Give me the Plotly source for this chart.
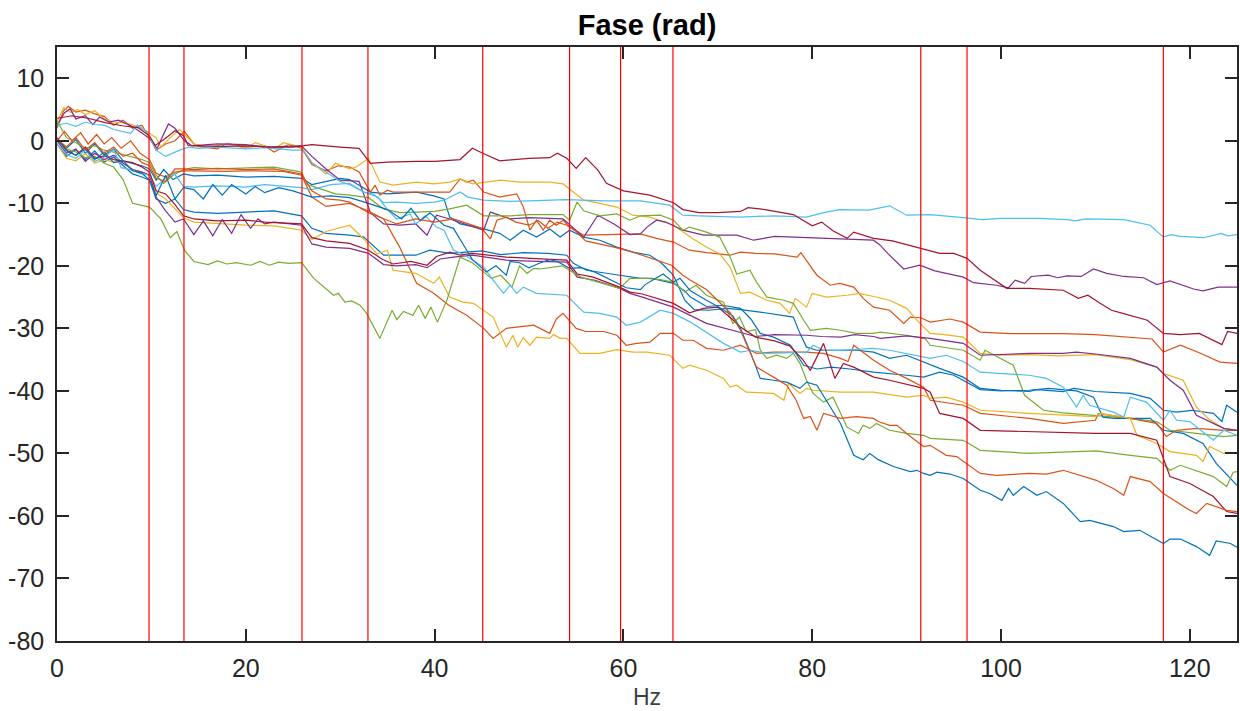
import plotly.graph_objects as go

# ---- data: vertices (Hz, phase rad) ----
R1 = [(0,3.6),(1.6,4.0),(3.3,3.6),(5.1,2.9),(6.9,2.4),(8.6,2.1),(9.8,0.8),(10.4,-0.75),(11.4,0.3),(12.5,1.6),(13.4,0.8),(13.9,-0.75),(15,-0.8),(17.5,-0.9),(20,-0.8),(22.5,-1.0),(25,-1.0),(27,-0.6),(30,-1.0),(32,-1.2),(33.2,-3.6),(35,-3.4),(38,-3.3),(40,-3.3),(42.7,-3.0),(44,-1.2),(45.1,-2.0),(46.9,-3.2),(50,-2.8),(52.2,-2.7),(53,-2.0),(54,-2.8),(55,-4.4),(56,-2.7),(57.3,-4.7),(58.2,-6.8),(60,-8.0),(62.8,-8.7),(65.3,-9.9),(66.3,-11.0),(68,-11.5),(70,-11.5),(72.4,-11.3),(73.2,-10.7),(75,-11.0),(78,-11.8),(80,-13.6),(81,-13.0),(82.2,-14.4),(83.7,-15.6),(84.4,-14.6),(86.5,-15.6),(88.5,-16.0),(91.4,-17.2),(93.5,-18.0),(95,-18.0),(96.4,-18.8),(97.8,-20.7),(100.6,-23.6),(103,-23.6),(106.6,-23.9),(108.2,-25.2),(109.2,-24.7),(110.5,-26.0),(111.7,-27.1),(112.9,-27.6),(115.5,-28.7),(117.2,-30.8),(119,-31.0),(121,-30.8),(123.4,-32.6),(124,-30.5),(125,-30.8)]

C1 = [(0,2.5),(1,2.8),(2,2.3),(3,3.0),(4,2.6),(5,2.5),(6,1.8),(7.8,1.2),(8.5,2.5),(9.5,1.5),(10.5,-1.5),(11.5,-2.5),(13,-1.5),(14,-1.0),(15,-1.2),(17,-1.0),(20,-1.3),(22,-1.1),(25,-1.5),(26,-1.5),(27,-3.5),(28.5,-5.0),(30,-6.5),(31,-7.0),(32.5,-8.2),(33.5,-8.5),(34.6,-9.9),(36,-9.8),(38,-10.0),(40,-9.8),(41,-9.5),(42.7,-8.2),(43.5,-9.0),(45.2,-9.5),(48,-9.7),(50,-9.6),(54,-9.4),(58,-9.6),(61.8,-9.6),(64.9,-10.3),(66.3,-11.9),(68,-12.0),(72.3,-12.2),(76,-12.0),(79.4,-12.2),(81.2,-11.5),(82.9,-11.0),(86,-11.1),(88.2,-10.4),(90,-11.9),(92.5,-11.8),(96,-12.3),(98,-12.6),(100,-12.4),(104,-12.4),(107,-12.6),(107.8,-12.8),(109,-12.5),(113,-12.6),(115.8,-13.5),(117.2,-15.4),(118,-15.0),(119,-15.3),(121.5,-15.5),(123.3,-14.8),(124,-15.2),(125,-15.0)]

P1 = [(0,2.5),(0.8,4.5),(1.4,5.1),(2,3.5),(3,4.0),(3.8,2.6),(4.5,3.8),(5.5,3.0),(6.5,3.3),(8,2.3),(9.7,0.5),(10.6,-1.2),(11.8,2.7),(12.5,2.0),(13.5,0),(14.3,-0.8),(17,-0.5),(20,-0.6),(22,-1.0),(25.9,-0.8),(27,-2.5),(28.5,-4.5),(30,-6.3),(32,-6.5),(33.2,-11.5),(34.6,-13.3),(36.3,-13.5),(38,-13.3),(39.2,-15.1),(40.2,-11.9),(41.6,-12.5),(43.5,-13.5),(45.2,-14.3),(45.9,-11.4),(48,-12.5),(50,-12.3),(53.6,-12.5),(55.8,-15.4),(57.3,-11.9),(59,-13.3),(60.7,-15.0),(61.8,-14.9),(62.5,-13.8),(63.5,-12.7),(64.5,-13.0),(66.3,-14.3),(68.5,-15.1),(72,-15.1),(73.8,-15.9),(76,-15.3),(80,-15.5),(83.7,-15.7),(86.5,-15.9),(87.2,-16.7),(88,-18.0),(89.7,-20.5),(91.4,-19.9),(93,-20.8),(96,-21.8),(97.1,-22.7),(99.5,-23.1),(100.8,-23.5),(101.5,-22.3),(102.5,-22.8),(103.2,-21.7),(105,-21.5),(106,-21.9),(107,-21.6),(108.5,-21.7),(109.8,-20.5),(111.2,-21.2),(113,-21.7),(115.1,-21.9),(116.5,-23.0),(117.9,-22.4),(120.4,-23.7),(121.4,-24.0),(123,-23.4),(125,-23.4)]

Y1 = [(0,3.0),(0.7,5.3),(1.5,4.5),(2.2,5.0),(3,4.2),(4,4.8),(5,3.5),(6,3.0),(7.5,2.8),(9,2.0),(10.5,0.5),(11,-1.0),(12,0.5),(13,1.8),(14.5,-0.5),(16,-1.0),(18,-0.5),(20,-1.2),(21,-0.3),(23,-1.3),(24,-0.3),(25.9,-1.0),(27,-3.5),(28.5,-5.3),(29.5,-3.6),(31,-4.5),(31.7,-4.2),(33,-2.8),(34.2,-6.6),(35.6,-7.1),(38.1,-6.6),(39.9,-6.9),(41.6,-6.6),(42.7,-6.1),(44,-6.9),(47,-6.3),(49,-6.6),(52.2,-6.6),(53.6,-6.9),(54.3,-7.7),(55.8,-9.5),(57.5,-10.0),(59.3,-10.6),(61,-11.9),(62.8,-12.2),(65.3,-13.5),(66.3,-14.6),(67.4,-15.7),(68.8,-17.0),(70.2,-18.1),(71.3,-20.2),(72.4,-24.4),(73.4,-24.2),(75.2,-25.5),(76.6,-26.0),(77.6,-27.6),(78.2,-25.2),(79.4,-26.6),(80,-24.4),(81.5,-25.0),(83.7,-24.7),(85,-24.4),(86.5,-24.9),(88.2,-25.5),(90,-26.8),(91.4,-29.2),(92.5,-30.8),(94,-31.0),(96,-31.4),(97.8,-34.0),(100,-34.3),(103,-34.2),(106,-34.4),(108,-34.3),(110,-34.2),(113.7,-35.0),(116.5,-36.2),(117.2,-37.2),(119.3,-38.3),(120.7,-42.6),(122,-44.5),(123.6,-46.0),(125,-46.3)]

O1 = [(0,2.0),(0.7,4.8),(1.2,5.5),(2,4.6),(3,4.9),(4,4.3),(5,3.9),(6,2.5),(7,3.3),(8,2.0),(9,2.5),(10,0),(10.5,-1.5),(11.5,-0.5),(12.5,0),(13.5,1.5),(14.5,-0.5),(15,-0.9),(17,-1.3),(18,-0.4),(20,-1.0),(22,-0.8),(23,-1.8),(24.5,-0.6),(25.9,-1.2),(27,-3.8),(28.5,-4.8),(29.8,-4.0),(31,-4.2),(32,-5.0),(33.2,-8.2),(33.7,-7.1),(34.2,-8.7),(35,-7.9),(35.6,-8.2),(38,-8.2),(41.6,-8.2),(42.7,-6.1),(43.4,-6.6),(44.1,-6.3),(45.2,-8.2),(46.9,-9.0),(48.7,-8.5),(49.4,-10.6),(50.1,-14.3),(50.8,-12.7),(51.5,-14.3),(52.2,-12.7),(52.9,-13.5),(53.6,-12.7),(54.3,-13.8),(55.8,-15.1),(58,-15.0),(61.8,-14.9),(63.5,-15.6),(65.3,-16.2),(67,-17.5),(68.8,-17.9),(71.3,-18.3),(72.4,-17.8),(74,-18.0),(76,-18.1),(78.4,-18.6),(78.8,-17.9),(80.5,-21.5),(81.9,-23.1),(82.9,-22.8),(84.4,-23.4),(85.4,-25.2),(86.5,-26.6),(88.2,-27.1),(89.7,-29.2),(90.4,-28.2),(91.5,-28.3),(92.5,-29.0),(94.6,-28.5),(96,-29.0),(97.8,-30.6),(101,-30.85),(106.6,-30.85),(110,-31.0),(113.7,-31.4),(116,-31.7),(117.2,-33.8),(119,-32.7),(121,-33.9),(123.2,-35.4),(125,-35.6)]

G1 = [(0,3.2),(1,0.5),(2,-0.3),(3,-1.2),(4,-0.8),(5,-1.5),(6,-1.8),(7,-2.2),(8,-2.5),(9,-3.0),(9.8,-3.5),(10.5,-5.5),(11.3,-6.8),(12.3,-5.5),(13.4,-4.6),(14.5,-4.3),(17,-4.5),(20,-4.3),(23,-4.2),(25.9,-5.0),(26.5,-7.0),(27.5,-7.5),(29.5,-8.5),(31,-8.7),(33,-9.1),(34.6,-10.9),(36.3,-11.5),(38,-11.4),(40,-11.3),(41.6,-10.9),(43.4,-10.3),(45.2,-12.0),(48,-12.0),(50,-11.8),(53.6,-11.8),(54.3,-12.7),(55.1,-9.8),(55.8,-11.2),(57.5,-12.0),(59.3,-11.7),(60.7,-12.7),(61.8,-12.0),(63.9,-11.9),(65.3,-12.7),(66.3,-14.3),(67,-13.8),(68.8,-14.6),(70.2,-15.4),(71.3,-18.6),(72,-21.3),(73.4,-20.7),(74.1,-22.6),(75.2,-25.0),(77,-25.5),(78,-26.0),(79.1,-28.7),(79.8,-30.3),(81.5,-30.0),(83,-30.3),(84.7,-30.8),(86.5,-30.8),(87.2,-30.6),(90,-31.1),(92,-31.7),(92.5,-32.7),(96,-33.5),(97.8,-35.1),(98.3,-33.5),(101.3,-35.9),(102.5,-40.7),(104.5,-43.1),(106.6,-43.5),(110,-43.9),(113.7,-44.4),(116.5,-44.9),(117.9,-46.3),(120.7,-46.8),(123.6,-47.3),(125,-47.1)]

O2 = [(0,0),(0.8,1.5),(1.6,0),(2.5,1.3),(3.3,-0.5),(4.2,1.0),(5,-0.5),(5.8,0.5),(6.8,-1.2),(7.8,0),(8.8,-2.0),(9.8,-3.0),(10.5,-5.2),(11.5,-5.8),(12.5,-5.0),(13.4,-4.8),(14.5,-4.8),(18,-4.9),(20,-4.8),(24,-4.9),(25.9,-5.5),(27,-9.0),(28.5,-10.5),(30,-10.2),(31,-10.0),(32.8,-11.1),(34.6,-12.5),(36.3,-17.0),(38.1,-22.8),(39.9,-24.4),(41.5,-26.3),(43.4,-27.9),(45.2,-30.0),(46.2,-31.6),(47.6,-30.0),(48.7,-29.8),(50.5,-29.5),(52.2,-30.8),(52.9,-28.5),(53.6,-27.6),(55,-30.0),(56,-30.5),(57.9,-30.5),(59.3,-31.1),(60.3,-32.7),(61.4,-32.4),(62.8,-32.2),(63.9,-30.8),(65.3,-30.8),(66.3,-31.9),(67.4,-31.9),(68.8,-33.2),(70.6,-33.5),(72.4,-32.7),(74.1,-34.0),(75.9,-33.8),(79.4,-33.8),(81.2,-34.0),(83,-34.8),(83.8,-35.3),(84.4,-32.7),(86.5,-35.1),(88.2,-36.7),(90,-38.0),(91.8,-39.4),(92.5,-41.5),(96,-42.3),(97.8,-43.6),(103,-44.4),(106.6,-45.2),(110,-44.7),(110.3,-43.6),(113.7,-44.4),(116.5,-45.2),(117.5,-47.3),(118.6,-46.3),(120.7,-46.0),(123.6,-46.3),(125,-46.3)]

O3 = [(0,0.3),(1,-1.0),(2,0.5),(3,-1.5),(4,-0.3),(5,-2.0),(6,-1.0),(7,-2.5),(8,-2.0),(9,-3.5),(9.8,-4.0),(10.5,-6.0),(11.5,-6.5),(12.5,-4.5),(13.4,-4.5),(14.5,-4.6),(17,-4.4),(20,-4.6),(23,-4.5),(25.9,-5.3),(27,-8.0),(28.5,-9.3),(30,-9.5),(31,-9.8),(33,-11.5),(34.6,-12.5),(36,-13.3),(38,-12.5),(40,-13.0),(42,-12.5),(43.5,-13.3),(45,-14.0),(45.9,-15.7),(46.6,-12.7),(47.6,-12.2),(48.6,-13.0),(50,-13.5),(51,-12.8),(52,-14.0),(53,-13.0),(54,-13.5),(55,-14.5),(56,-16.0),(57.5,-16.5),(59,-17.0),(61,-17.8),(62,-18.3),(65.1,-19.9),(66.3,-21.5),(67.1,-22.3),(68.8,-23.8),(70.2,-25.8),(71.3,-27.5),(72.4,-30.3),(73,-32.4),(74.1,-36.2),(75.9,-37.8),(77.3,-39.1),(78.3,-41.5),(79.1,-44.4),(79.8,-44.1),(80.5,-46.3),(81.2,-43.6),(82.2,-44.1),(83,-44.4),(84.7,-44.1),(86.5,-44.4),(87,-44.9),(88.2,-45.5),(89,-45.5),(90,-46.8),(91.8,-48.9),(92.5,-48.7),(94.2,-50.3),(95.3,-50.5),(97.8,-53.2),(99.5,-53.5),(103,-53.2),(104.8,-53.3),(106.6,-52.7),(110.1,-54.3),(111.9,-55.6),(113,-56.7),(113.7,-53.7),(115.8,-54.5),(117.2,-56.4),(120,-59.1),(120.7,-59.6),(121.8,-58.0),(123.9,-59.1),(125,-59.3)]

B1 = [(0,0),(1,-1.2),(2,0.2),(3,-2.0),(4,-0.5),(5,-2.3),(6,-1.3),(7,-3.2),(8,-3.6),(9,-4.0),(9.8,-4.5),(10.5,-6.3),(11.3,-4.6),(12.3,-6.2),(13.4,-5.3),(14.5,-5.6),(17,-5.5),(20,-5.8),(23,-5.7),(25.9,-6.0),(27,-7.0),(28.5,-6.5),(30,-6.0),(31,-6.2),(33.2,-8.2),(35,-8.5),(38.1,-8.2),(39.9,-8.8),(41,-9.3),(41.6,-12.2),(42.7,-13.3),(45.2,-14.1),(46.9,-14.8),(48,-15.9),(49.4,-14.3),(50.8,-15.4),(52.2,-14.1),(53.3,-15.4),(54.3,-14.3),(55.8,-15.4),(57.5,-15.9),(59.3,-17.0),(61,-17.8),(62.8,-18.3),(64,-19.5),(65.3,-21.5),(66.5,-25.5),(67.5,-27.0),(69,-27.1),(71,-26.8),(72.4,-27.0),(75,-27.5),(78,-28.2),(78.7,-30.8),(79.4,-33.0),(80.5,-33.5),(82.2,-33.5),(84.7,-33.5),(86.5,-33.8),(88.2,-34.8),(90,-34.3),(91.8,-35.4),(93.5,-36.4),(96,-37.8),(97.8,-39.6),(100,-39.9),(103,-40.1),(103.8,-39.8),(106.6,-40.1),(107.7,-39.6),(110,-40.1),(113.7,-40.4),(115.8,-41.2),(117.2,-43.1),(118.6,-43.4),(120.2,-43.1),(122.5,-43.6),(123.4,-44.9),(123.9,-42.3),(125,-43.4)]

B2 = [(0,-0.5),(1,-2.5),(2,-1.4),(3,-3.0),(4,-1.6),(5,-3.4),(6,-2.6),(7,-4.0),(8,-5.3),(9,-5.8),(9.8,-6.3),(10.5,-9.3),(11.5,-10.0),(12.5,-9.3),(13.4,-11.0),(14.5,-11.4),(17,-11.6),(20,-11.4),(23,-11.2),(25.9,-12.0),(27,-14.0),(28.5,-14.8),(31,-15.1),(32.5,-15.4),(33.9,-17.3),(34.6,-18.3),(38,-18.3),(39.5,-17.5),(41.6,-18.0),(45,-17.6),(47,-18.2),(49.4,-17.9),(52,-18.0),(54,-18.3),(54.7,-19.6),(56.1,-20.7),(59.6,-21.5),(61.8,-22.0),(63,-22.0),(65.3,-22.8),(66.5,-24.0),(67.1,-25.0),(68.8,-26.5),(70.5,-26.3),(72.4,-26.8),(73.5,-28.5),(74.5,-30.8),(75.9,-31.4),(77.7,-32.7),(79.1,-35.9),(80.5,-36.5),(82,-36.2),(84,-36.5),(86.5,-37.0),(90,-37.5),(91.8,-37.8),(93.5,-37.0),(95,-37.5),(97.8,-39.8),(100,-40.0),(103,-39.9),(105,-39.6),(108,-40.0),(109.8,-41.0),(110.8,-44.2),(112,-44.4),(115.8,-44.4),(117.2,-46.3),(119.3,-46.8),(121.4,-48.4),(122.8,-51.6),(125,-55.1)]

B3 = [(0,0.3),(1,-1.6),(2,-2.3),(3,-1.3),(4,-3.0),(5,-1.8),(6,-3.5),(7,-3.2),(8,-4.8),(9,-5.2),(9.8,-6.3),(10.5,-8.8),(11.5,-5.5),(12.5,-9.3),(13.4,-7.5),(14.5,-7.8),(15.5,-9.3),(16.5,-7.0),(17.5,-8.7),(18.5,-7.0),(20,-8.5),(21,-7.3),(22,-8.3),(23.5,-7.5),(25,-8.0),(25.9,-8.5),(27,-9.0),(29,-8.8),(31,-9.1),(33,-10.0),(35,-11.0),(36.5,-12.5),(37.5,-10.8),(38.5,-12.8),(39.5,-11.5),(41,-13.5),(42,-14.0),(43,-16.5),(44,-19.0),(45.5,-21.0),(46.5,-20.0),(47.6,-21.5),(48,-19.3),(49,-19.5),(50,-20.3),(51.2,-19.5),(52.2,-19.0),(53,-19.3),(54.3,-20.4),(55.5,-20.3),(57,-21.0),(59,-22.5),(60.3,-23.5),(61.8,-23.8),(62.3,-23.0),(64.2,-21.3),(65.3,-22.6),(66,-22.0),(67.1,-24.0),(68.8,-25.5),(70,-26.5),(71.6,-28.0),(72.4,-30.0),(73.5,-34.0),(74.5,-38.0),(75.9,-38.3),(77.3,-38.6),(78.7,-39.6),(79.4,-38.6),(80.5,-39.1),(81.5,-41.5),(83,-45.2),(84.4,-50.3),(85.4,-51.0),(86.1,-50.0),(87,-51.0),(88.6,-52.1),(90.4,-52.9),(91.1,-52.7),(91.8,-53.2),(92.5,-53.5),(93.2,-53.0),(94.6,-53.3),(96,-54.0),(97.8,-55.9),(98.8,-56.4),(100.1,-57.5),(100.8,-55.6),(101.3,-56.7),(102.4,-55.3),(103.8,-56.7),(104.8,-56.1),(106.6,-58.0),(108.4,-60.9),(109.4,-60.7),(111.9,-61.7),(113,-62.5),(114.7,-62.3),(117.2,-64.4),(117.9,-63.7),(119,-63.7),(120.7,-64.9),(122.1,-66.3),(122.8,-64.0),(124.3,-64.4),(125,-65.0)]

C2 = [(0,-0.5),(1,-2.2),(2,-2.8),(3,-1.5),(4,-3.3),(5,-2.6),(6,-1.4),(6.8,-4.3),(7.8,-4.6),(8.8,-5.2),(9.8,-5.5),(10.5,-7.3),(11.5,-6.0),(12.4,-5.2),(13.4,-7.3),(14.5,-7.4),(17,-7.2),(20,-7.4),(22,-7.0),(24,-7.3),(25.9,-7.5),(27,-7.8),(29,-7.0),(31,-6.8),(32.5,-8.2),(34,-9.0),(35,-11.0),(36,-12.5),(37.4,-11.7),(38,-13.3),(39,-12.0),(40.2,-13.8),(41,-14.3),(42,-17.5),(43,-18.1),(45.2,-20.2),(46.2,-22.3),(47.3,-24.4),(48,-23.1),(48.7,-24.4),(49.4,-23.4),(50.8,-24.4),(54,-24.7),(54.7,-25.8),(55.8,-27.4),(57.5,-27.6),(59.3,-28.2),(60.3,-29.5),(61.2,-29.2),(61.8,-29.0),(63.9,-27.1),(65.3,-27.6),(67.1,-29.0),(68.8,-30.6),(70.6,-32.4),(72.4,-33.8),(73.5,-33.5),(75.2,-34.0),(79.4,-33.8),(80.1,-32.7),(81.2,-33.5),(83,-33.5),(86.5,-33.2),(88.2,-33.5),(90,-34.0),(92.5,-34.8),(94.2,-34.3),(96,-35.3),(97.8,-37.0),(99.5,-37.2),(103,-37.5),(104.8,-38.0),(106.6,-39.4),(108,-42.6),(108.7,-40.7),(109.4,-42.3),(111.9,-43.4),(113,-44.2),(113.7,-41.0),(115.4,-41.8),(117.2,-44.7),(117.9,-43.1),(118.6,-44.7),(120,-44.9),(122.5,-47.9),(123.6,-46.3),(125,-47.1)]

R2 = [(0,0.5),(1,-1.5),(2,-2.3),(3,-1.0),(4,-2.8),(5,-2.4),(6,-3.0),(7,-3.2),(8,-3.5),(9,-4.2),(9.8,-5.0),(10.5,-8.0),(11.5,-8.5),(12.5,-10.2),(13.4,-12.0),(14.5,-12.5),(17,-12.8),(20,-12.7),(22,-13.0),(25.9,-13.3),(27,-15.5),(28.5,-16.0),(31,-16.4),(33,-17.5),(34.5,-19.0),(35.6,-19.7),(37.5,-19.3),(39.2,-19.9),(40.2,-18.5),(41.6,-17.8),(42.7,-18.3),(44,-18.0),(47.6,-18.6),(51.2,-18.9),(54,-19.1),(55.1,-21.3),(56.8,-21.8),(59.6,-23.4),(60.7,-24.2),(62,-24.5),(65.3,-26.0),(67,-27.5),(68.5,-26.8),(70,-26.6),(71.5,-28.5),(72.4,-29.8),(74,-31.4),(76,-32.0),(77.6,-32.8),(79,-35.0),(79.8,-36.7),(81.2,-32.4),(82.4,-38.0),(83.3,-35.6),(84.4,-36.2),(86.5,-37.8),(88.2,-38.3),(91.8,-39.6),(92.5,-40.2),(93.5,-43.6),(96,-44.4),(97.8,-46.3),(103,-46.5),(110,-46.8),(113.7,-46.8),(116.5,-47.9),(117.9,-53.7),(120,-54.8),(122.5,-56.9),(123.9,-59.3),(125,-59.6)]

P2 = [(0,0),(1,-2.0),(2,-1.3),(3,-3.3),(4,-2.0),(5,-3.0),(6,-2.3),(7,-3.6),(8,-4.6),(9,-5.0),(9.8,-5.5),(10.5,-9.0),(11.5,-11.2),(12.5,-13.0),(13.4,-12.5),(14.5,-15.0),(15.5,-12.8),(16.5,-15.2),(17.5,-12.6),(18.5,-14.8),(19.5,-11.8),(20.5,-14.0),(21.3,-12.5),(22,-13.3),(23,-13.0),(25.9,-13.5),(27,-16.5),(28.5,-17.0),(31,-17.2),(33,-18.0),(34.6,-19.8),(36,-20.0),(38,-19.8),(39.2,-20.3),(40.6,-18.9),(42,-18.6),(44,-18.3),(47.6,-19.1),(51,-19.3),(54,-19.4),(55.1,-21.8),(57,-22.3),(59.6,-23.6),(60.7,-24.4),(62,-25.0),(65.3,-26.6),(68.8,-29.2),(72.4,-30.6),(74,-31.3),(76,-31.0),(79.4,-31.1),(81,-31.3),(83,-31.4),(84.5,-31.0),(86.5,-31.3),(87.2,-31.6),(90,-31.2),(92.5,-31.6),(96,-32.4),(97.8,-34.3),(100,-34.2),(103,-34.0),(106.6,-34.0),(108,-33.8),(110,-34.1),(113.7,-34.8),(116.5,-36.2),(117.9,-38.3),(119.3,-39.9),(120.7,-43.9),(123.6,-46.0),(125,-46.3)]

Y2 = [(0,-0.5),(1,-2.8),(2,-3.2),(3,-2.0),(4,-3.6),(5,-3.0),(6,-3.4),(7,-3.2),(8,-4.6),(9,-5.0),(9.8,-5.6),(10.5,-8.3),(11.5,-9.3),(12.5,-10.8),(13.4,-12.3),(14.5,-13.0),(17,-13.2),(20,-13.5),(23,-13.6),(25.9,-14.3),(27,-15.8),(28.5,-14.5),(31,-13.5),(32.5,-15.7),(33.9,-18.1),(35,-17.5),(35.6,-20.7),(38,-21.2),(39.9,-22.8),(40.5,-21.8),(41.6,-25.0),(43,-25.8),(44.1,-26.0),(45.2,-27.2),(46.2,-28.2),(47.6,-33.0),(48.3,-31.1),(48.8,-33.0),(49.4,-31.5),(50.1,-32.7),(50.8,-31.4),(52.2,-31.6),(52.6,-31.0),(53.3,-31.6),(54,-31.6),(55.4,-34.0),(57.5,-34.0),(59.3,-33.4),(61,-33.8),(62.5,-33.8),(64.9,-34.3),(66.3,-36.4),(67,-35.9),(68.8,-36.7),(70.6,-38.0),(71.3,-39.4),(72,-39.1),(73,-40.2),(75.9,-40.4),(77,-41.5),(77.5,-38.8),(78.7,-40.4),(79.4,-39.6),(80.1,-39.9),(83,-40.2),(86.5,-40.2),(90,-41.0),(91.8,-40.7),(92.5,-41.2),(94.2,-41.0),(96,-41.8),(97.8,-43.1),(103,-43.6),(110,-44.1),(110.5,-43.6),(113.7,-44.4),(114.4,-47.1),(116.5,-48.4),(117.9,-49.7),(120.7,-50.3),(121.4,-51.3),(122.1,-48.9),(123.6,-50.0),(125,-50.0)]

G2 = [(0,0.2),(1,-1.3),(2,-1.8),(3,-2.7),(4,-2.5),(5,-3.6),(6,-4.2),(7,-6.2),(8,-10.0),(9,-10.3),(9.8,-10.6),(11,-12.5),(12,-15.5),(12.7,-14.5),(13.5,-17.5),(14.5,-19.3),(16,-19.8),(17,-19.2),(18,-19.7),(19,-19.5),(20.5,-19.9),(21.5,-19.3),(22.5,-19.9),(23.5,-19.4),(24.5,-19.6),(25.9,-19.5),(27.2,-22.0),(29.3,-24.7),(29.8,-24.4),(30.5,-25.8),(31.2,-25.6),(32.1,-26.3),(32.8,-27.6),(34.2,-31.6),(35.5,-27.1),(36,-28.6),(36.7,-27.3),(37.7,-27.9),(38.3,-26.3),(39,-28.4),(39.6,-26.6),(40.3,-29.0),(41.3,-25.5),(42.7,-18.6),(44,-19.5),(45.2,-21.0),(46,-22.0),(47,-21.5),(48.2,-23.4),(49,-20.0),(49.8,-21.2),(50.5,-20.4),(51.2,-20.5),(53.5,-20.0),(54.7,-21.0),(55.5,-21.8),(59.6,-23.6),(60.7,-22.0),(62.5,-22.0),(63.9,-22.2),(65.3,-22.6),(66.5,-24.2),(67.7,-23.1),(68.8,-24.7),(70.6,-25.8),(71.6,-29.2),(72.3,-28.2),(73,-30.5),(74,-30.2),(74.5,-33.5),(75.2,-34.8),(76.2,-34.3),(77.3,-34.8),(78,-34.0),(78.7,-35.6),(79.4,-38.3),(80.1,-40.4),(81.2,-41.8),(82.2,-41.0),(83,-43.6),(83.7,-45.8),(84.9,-46.8),(85.4,-45.5),(86.1,-46.0),(86.8,-45.2),(88.2,-46.3),(90,-46.8),(91.8,-47.1),(92.5,-47.6),(96,-47.9),(97.8,-49.5),(103,-50.0),(108.4,-49.7),(110.1,-49.6),(113.7,-50.3),(116.5,-50.8),(117.9,-52.7),(119,-51.9),(122.5,-53.7),(123.9,-55.3),(124.6,-53.0),(125,-52.9)]

# vertical marker frequencies (Hz)
red_lines = [9.75, 13.45, 25.95, 32.94, 45.1, 54.3, 59.7, 65.25, 91.5, 96.4, 117.2]

x_ticks = [0, 20, 40, 60, 80, 100, 120]
y_ticks = [-80, -70, -60, -50, -40, -30, -20, -10, 0, 10]
y_tick_labels = ["-80", "-70", "-60", "-50", "-40", "-30", "-20", "-10", "0", "10"]

BLUE, ORANGE, YELLOW, PURPLE, GREEN, CYAN, DARKRED = (
    "#0072BD", "#D95319", "#EDB120", "#7E2F8E", "#77AC30", "#4DBEEE", "#A2142F")

series = [
    (B1, BLUE), (O1, ORANGE), (Y1, YELLOW), (P1, PURPLE), (G1, GREEN), (C1, CYAN), (R1, DARKRED),
    (B2, BLUE), (O2, ORANGE), (Y2, YELLOW), (P2, PURPLE), (G2, GREEN), (C2, CYAN), (R2, DARKRED),
    (B3, BLUE), (O3, ORANGE),
]

fig = go.Figure()
for pts, col in series:
    fig.add_trace(go.Scatter(
        x=[p[0] for p in pts], y=[p[1] for p in pts], mode="lines",
        line=dict(color=col, width=1.2), showlegend=False, hoverinfo="skip"))

for xv in red_lines:
    fig.add_shape(type="line", xref="x", yref="paper", x0=xv, x1=xv, y0=0, y1=1,
                  line=dict(color="#FF0000", width=1.2))

AX = "#262626"
FONT = "Liberation Sans, Arial, sans-serif"
axis_common = dict(showgrid=False, zeroline=False, showline=True, linecolor=AX, linewidth=1.5,
                   ticks="inside", ticklen=12, tickwidth=1.5, tickcolor=AX, mirror="ticks",
                   automargin=False, tickfont=dict(family=FONT, size=25, color=AX))

fig.update_layout(
    width=1240, height=711, autosize=False,
    margin=dict(l=57, r=3, t=47, b=70, pad=0),
    paper_bgcolor="white", plot_bgcolor="white",
    xaxis=dict(range=[0, 125], tickvals=x_ticks, ticklabelstandoff=4, **axis_common),
    yaxis=dict(range=[-80, 15], tickvals=y_ticks, ticktext=y_tick_labels,
               ticklabelstandoff=6, **axis_common),
    title=dict(text="<b>Fase (rad)</b>", x=0.5, xref="paper", y=1 - 25 / 711, yref="container",
               xanchor="center", yanchor="middle", font=dict(family=FONT, size=29, color="black")),
)
fig.add_annotation(text="Hz", xref="paper", yref="paper", x=0.5, y=-(697 - 641) / 594,
                   xanchor="center", yanchor="middle", showarrow=False,
                   font=dict(family=FONT, size=23, color="#404040"))

fig.write_html("out.html", config={"displayModeBar": False},
               post_script="document.body.style.margin='0';document.body.style.overflow='hidden';")
